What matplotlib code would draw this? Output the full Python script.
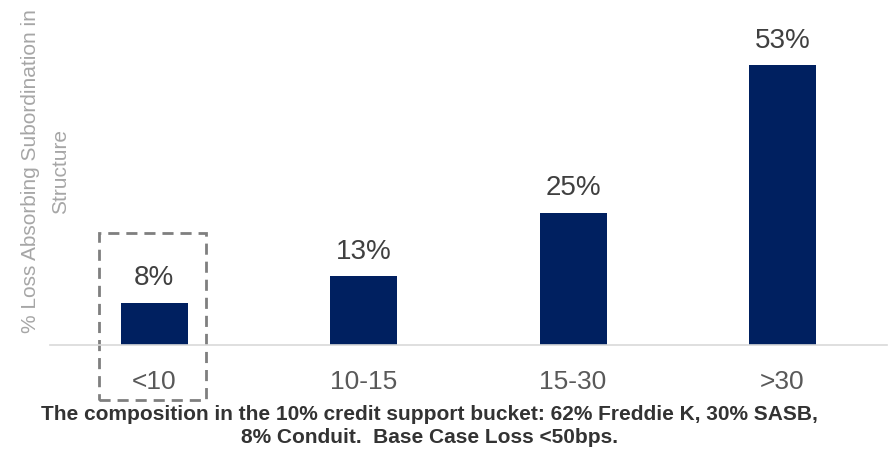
import matplotlib
matplotlib.use("Agg")
import matplotlib.pyplot as plt
from matplotlib.patches import Rectangle

categories = ["<10", "10-15", "15-30", ">30"]
values = [8, 13, 25, 53]
value_labels = ["8%", "13%", "25%", "53%"]
y_label = "% Loss Absorbing Subordination in\nStructure"
footnote = ("The composition in the 10% credit support bucket: 62% Freddie K, 30% SASB,\n"
            "8% Conduit.  Base Case Loss <50bps.")

plt.rcParams["font.family"] = ["Liberation Sans", "DejaVu Sans"]

fig = plt.figure(figsize=(8.91, 4.49), dpi=100)
ax = fig.add_axes([0.0556, 0.2316, 0.94, 0.7684])

x = range(len(categories))
ax.bar(x, values, width=0.32, color="#002060")
for xi, v, lab in zip(x, values, value_labels):
    ax.text(xi, v + 3.3, lab, ha="center", va="baseline", fontsize=20, color="#404040")

ax.set_xlim(-0.5, len(categories) - 0.5)
ax.set_ylim(0, 65.3)
ax.set_xticks(list(x))
ax.set_xticklabels(categories, fontsize=19, color="#595959")
ax.tick_params(axis="x", length=0, pad=18)
ax.set_yticks([])
for s in ["top", "right", "left"]:
    ax.spines[s].set_visible(False)
ax.spines["bottom"].set_color("#D9D9D9")
ax.spines["bottom"].set_linewidth(1.2)

# y axis title sits partly over the plot area, like the original
fig.text(0.051, 0.619, y_label, rotation=90, ha="center", va="center",
         fontsize=15, color="#A6A6A6", linespacing=1.75)

# dashed highlight around the first bucket
box = Rectangle((-0.263, -10.4), 0.511, 31.6, fill=False, edgecolor="#7F7F7F",
                linestyle=(0, (4, 2.5)), linewidth=2, clip_on=False)
ax.add_patch(box)

fig.text(0.482, 0.051, footnote, ha="center", va="center", fontsize=15,
         fontweight="bold", color="#333333", linespacing=1.25)

fig.savefig("out.png", dpi=100)
plt.close(fig)
